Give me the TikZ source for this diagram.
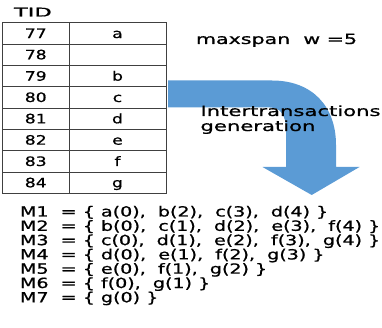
\documentclass[tikz,border=0pt]{standalone}
\usepackage{fontspec}
\setmainfont{DejaVu Sans}[FakeBold=0.7]
\usepackage{graphicx}
\definecolor{arrowblue}{HTML}{5B9BD5}
\definecolor{gridline}{HTML}{404040}
\newcommand{\xstretch}[2]{\scalebox{#1}[1]{#2}}
\tikzset{
  txt/.style={inner sep=0pt, outer sep=0pt, font=\fontsize{14}{15}\selectfont, text=black},
  cellA/.style={draw=gridline, line width=0.9pt, minimum width=66.5pt, minimum height=21.33pt, inner sep=0pt, text height=9.3pt, text depth=0pt, font=\fontsize{13}{14}\selectfont},
  cellB/.style={cellA, minimum width=97pt},
  bigarrow/.style={fill=arrowblue, draw=none}
}
\begin{document}
\begin{tikzpicture}[x=1pt,y=-1pt]
\useasboundingbox (0,0) rectangle (382,328);
% title
\node[txt, anchor=base west, font=\fontsize{12}{13}\selectfont] (tid) at (14,16.5) {\xstretch{1.88}{TID}};
% table
\foreach \i/\n/\l in {0/77/a,1/78/{},2/79/b,3/80/c,4/81/d,5/82/e,6/83/f,7/84/g}{
  \node[cellA] (n\n) at (35.75,{22.7+21.33*\i+10.665}) {\xstretch{1.32}{\n}};
  \node[cellB] (l\n) at (117.5,{22.7+21.33*\i+10.665}) {\xstretch{1.32}{\l}};
}
% arrow
\path[bigarrow] (168,80.5) -- (272,80.5) .. controls (312,80.5) and (336,106) .. (336,145)
  -- (336,167) -- (359.5,167) -- (311.7,195) -- (262.5,167) -- (286,167) -- (286,130)
  .. controls (286,116) and (281,107.5) .. (270,107.5) -- (168,107.5) -- cycle;
% labels
\node[txt, anchor=base west] (span) at (196,44) {\xstretch{1.47}{maxspan\ \ w =5}};
\node[txt, anchor=base west] (gen1) at (200.5,116) {\xstretch{1.51}{Intertransactions}};
\node[txt, anchor=base west] (gen2) at (200.5,131) {\xstretch{1.51}{generation}};
% M lines
\foreach \k/\t in {1/{M1 \ = \{ a(0), \ b(2), \ c(3), \ d(4) \}},
                   2/{M2 \ = \{ b(0), \ c(1), \ d(2), \ e(3), \ f(4) \}},
                   3/{M3 \ = \{ c(0), \ d(1), \ e(2), \ f(3), \ g(4) \}},
                   4/{M4 \ = \{ d(0), \ e(1), \ f(2), \ g(3) \}},
                   5/{M5 \ = \{ e(0), \ f(1), \ g(2) \}},
                   6/{M6 \ = \{ f(0), \ g(1) \}},
                   7/{M7 \ = \{ g(0) \}}}{
  \node[txt, anchor=base west] (m\k) at (20,{216.5+14.3*(\k-1)}) {\xstretch{1.363}{\t}};
}
\end{tikzpicture}
\end{document}
